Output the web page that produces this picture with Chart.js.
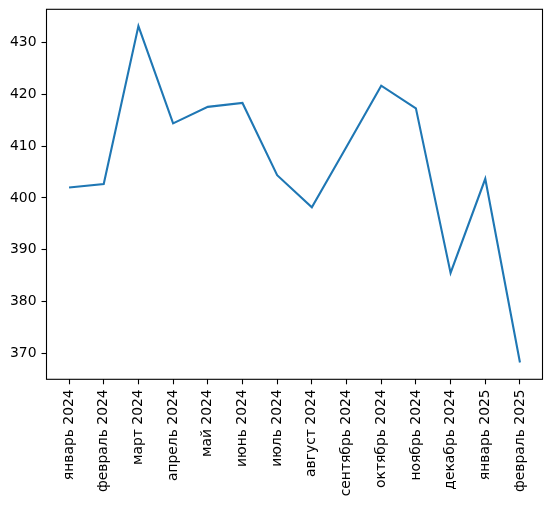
<!DOCTYPE html>
<html>
<head>
<meta charset="utf-8">
<script src="https://cdn.jsdelivr.net/npm/chart.js@4.4.1/dist/chart.umd.min.js"></script>
<style>
  html, body { margin: 0; padding: 0; background: #fff; }
  #wrap { width: 552px; height: 506px; position: relative; }
</style>
</head>
<body>
<div id="wrap"><canvas id="chart"></canvas></div>
<script>
// months on the x axis
var months = ["январь 2024", "февраль 2024", "март 2024", "апрель 2024", "май 2024", "июнь 2024",
  "июль 2024", "август 2024", "сентябрь 2024", "октябрь 2024", "ноябрь 2024", "декабрь 2024",
  "январь 2025", "февраль 2025"];
// values
var values = [402.0, 402.7, 433.2, 414.4, 417.6, 418.35, 404.4, 398.2, 409.9, 421.7, 417.3, 385.5, 403.7, 368.2];
var yTicks = [370, 380, 390, 400, 410, 420, 430];

var points = [];
for (var i = 0; i < values.length; i++) {
  points.push({ x: i, y: values[i] });
}

// matplotlib style frame round the plot area
var framePlugin = {
  id: "frame",
  afterDraw: function (chart) {
    var a = chart.chartArea;
    var ctx = chart.ctx;
    ctx.save();
    ctx.strokeStyle = "#000";
    ctx.lineWidth = 1.1;
    ctx.strokeRect(a.left, a.top, a.right - a.left, a.bottom - a.top);
    ctx.restore();
  },
};

var font = { family: "DejaVu Sans", size: 13.9 };

new Chart(document.getElementById("chart"), {
  type: "line",
  data: {
    datasets: [
      {
        data: points,
        borderColor: "#1f77b4",
        borderWidth: 2.1,
        pointRadius: 0,
        tension: 0,
        fill: false,
      },
    ],
  },
  options: {
    responsive: true,
    maintainAspectRatio: false,
    animation: false,
    layout: { padding: { top: 9.3, right: 9.5, left: 0, bottom: 0 } },
    plugins: { legend: { display: false }, tooltip: { enabled: false } },
    scales: {
      x: {
        type: "linear",
        min: -0.65,
        max: values.length - 1 + 0.65,
        afterBuildTicks: function (scale) {
          scale.ticks = months.map(function (m, i) { return { value: i }; });
        },
        afterFit: function (scale) {
          scale.height = 126.7;
          scale.paddingLeft = 0;
          scale.paddingRight = 0;
        },
        ticks: {
          autoSkip: false,
          minRotation: 90,
          maxRotation: 90,
          color: "#000",
          font: font,
          padding: 5,
          callback: function (v) { return months[v]; },
        },
        grid: { drawOnChartArea: false, drawTicks: true, tickLength: 5, tickColor: "#000", tickWidth: 1.1 },
        border: { display: false },
      },
      y: {
        min: 364.95,
        max: 436.45,
        afterBuildTicks: function (scale) {
          scale.ticks = yTicks.map(function (v) { return { value: v }; });
        },
        afterFit: function (scale) {
          scale.width = 46.5;
          scale.paddingTop = 0;
          scale.paddingBottom = 0;
        },
        ticks: { color: "#000", font: font, padding: 5 },
        grid: { drawOnChartArea: false, drawTicks: true, tickLength: 5, tickColor: "#000", tickWidth: 1.1 },
        border: { display: false },
      },
    },
  },
  plugins: [framePlugin],
});
</script>
</body>
</html>
